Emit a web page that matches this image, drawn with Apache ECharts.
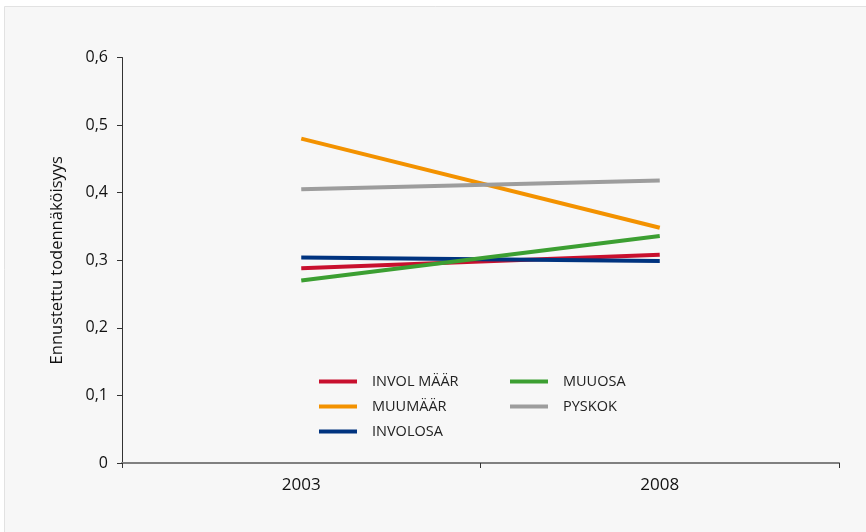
<!DOCTYPE html>
<html>
<head>
<meta charset="utf-8">
<script src="https://cdn.jsdelivr.net/npm/echarts@6/dist/echarts.min.js"></script>
<style>
  html, body { margin: 0; padding: 0; background: #ffffff; }
  #chart { width: 866px; height: 532px; }
</style>
</head>
<body>
<div id="chart"></div>
<script>
// Predicted probabilities by year and group
const years = ['2003', '2008'];
const involMaar = [0.288, 0.308];
const muuMaar = [0.480, 0.348];
const involOsa = [0.304, 0.299];
const muuOsa = [0.270, 0.336];
const pysKok = [0.405, 0.418];
const yTicks = ['0', '0,1', '0,2', '0,3', '0,4', '0,5', '0,6'];

const FONT = '"Open Sans", "Noto Sans", sans-serif';

function lineSeries(name, data, color) {
  return {
    name: name,
    type: 'line',
    data: data,
    symbol: 'none',
    color: color,
    lineStyle: { width: 4, color: color },
    silent: true
  };
}

const legendCommon = {
  orient: 'vertical',
  icon: 'rect',
  itemWidth: 38,
  itemHeight: 4,
  itemGap: 10,
  textStyle: { fontFamily: FONT, fontSize: 14.5, color: '#222', padding: [0, 0, 0, 10] },
  selectedMode: false
};

const chart = echarts.init(document.getElementById('chart'), null, { renderer: 'canvas' });
chart.setOption({
  animation: false,
  backgroundColor: '#ffffff',
  graphic: [{
    type: 'rect',
    z: -10,
    shape: { x: 4.5, y: 6.5, width: 870, height: 540 },
    style: { fill: '#f7f7f7', stroke: '#e2e2e2', lineWidth: 1 }
  }],
  grid: { left: 122, right: 27, top: 57.5, bottom: 69 },
  legend: [
    Object.assign({}, legendCommon, { left: 314, top: 369, data: ['INVOL MÄÄR', 'MUUMÄÄR', 'INVOLOSA'] }),
    Object.assign({}, legendCommon, { left: 505, top: 369, data: ['MUUOSA', 'PYSKOK'] })
  ],
  xAxis: {
    type: 'category',
    data: years,
    boundaryGap: true,
    axisLine: { lineStyle: { color: '#808080', width: 2 } },
    axisTick: { show: true, length: 5, alignWithLabel: false, lineStyle: { color: '#333', width: 1 } },
    axisLabel: { fontFamily: FONT, fontSize: 17, color: '#111', margin: 14 },
    splitLine: { show: false }
  },
  yAxis: {
    type: 'value',
    min: 0,
    max: 0.6,
    interval: 0.1,
    name: 'Ennustettu todennäköisyys',
    nameLocation: 'middle',
    nameGap: 56,
    nameTextStyle: { fontFamily: FONT, fontSize: 16.5, color: '#111' },
    axisLine: { show: true, lineStyle: { color: '#333', width: 1 } },
    axisTick: { show: true, length: 5, lineStyle: { color: '#333', width: 1 } },
    axisLabel: {
      fontFamily: FONT, fontSize: 16, color: '#111', margin: 14,
      formatter: function (v) { return yTicks[Math.round(v * 10)]; }
    },
    splitLine: { show: false }
  },
  series: [
    lineSeries('INVOL MÄÄR', involMaar, '#c8102e'),
    lineSeries('MUUMÄÄR', muuMaar, '#f39200'),
    lineSeries('INVOLOSA', involOsa, '#00337f'),
    lineSeries('MUUOSA', muuOsa, '#3c9f32'),
    lineSeries('PYSKOK', pysKok, '#9d9d9d')
  ]
});
</script>
</body>
</html>
